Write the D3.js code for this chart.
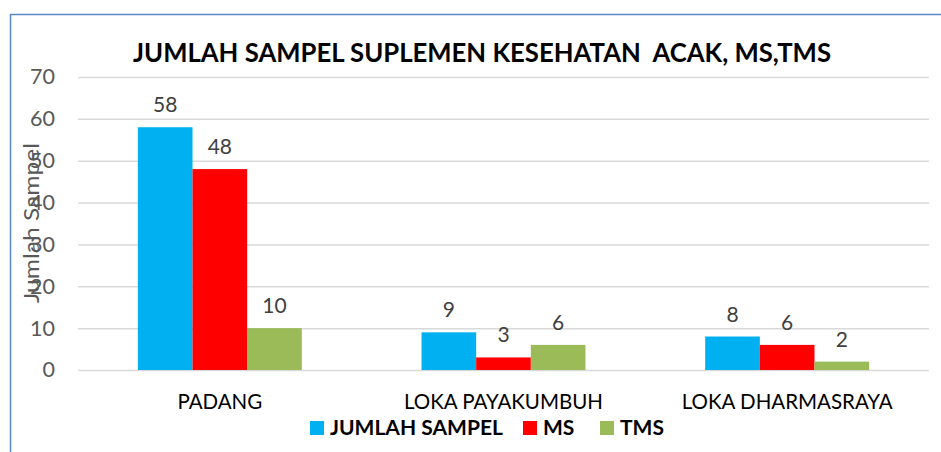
<!DOCTYPE html>
<html>
<head>
<meta charset="utf-8">
<script src="https://cdn.jsdelivr.net/npm/d3@7"></script>
<style>
    body { margin: 0; background: #fff; }
    svg { display: block; font-family: Lato, "Open Sans", sans-serif; }
</style>
</head>
<body>
<svg id="chart"></svg>
<script>
//----------------------------//
//            DATA            //
//----------------------------//
const categories = ["PADANG", "LOKA PAYAKUMBUH", "LOKA DHARMASRAYA"];
const seriesNames = ["JUMLAH SAMPEL", "MS", "TMS"];
const jumlahSampel = [58, 9, 8];
const ms = [48, 3, 6];
const tms = [10, 6, 2];
const yTicks = [0, 10, 20, 30, 40, 50, 60, 70];
const colors = ["#00b0f0", "#ff0000", "#9bbb59"];
const title = "JUMLAH SAMPEL SUPLEMEN KESEHATAN  ACAK, MS,TMS";
const yTitle = "Jumlah Sampel";

const seriesValues = [jumlahSampel, ms, tms];

// --- Plotting ---
function plotChart() {
    const width = 941, height = 452;
    const plot = { left: 78, right: 929, top: 77, bottom: 370 };

    const svg = d3.select('#chart')
        .attr('width', width)
        .attr('height', height);

    svg.append('rect')
        .attr('width', width).attr('height', height)
        .attr('fill', '#fff');

    // chart border (only top and left visible)
    svg.append('path')
        .attr('d', `M10.5,${height} V14.5 H${width}`)
        .attr('fill', 'none')
        .attr('stroke', '#5b87c9')
        .attr('stroke-width', 1.5);

    const y = d3.scaleLinear()
        .domain([0, 70])
        .range([plot.bottom, plot.top]);

    const x0 = d3.scaleBand()
        .domain(categories)
        .range([plot.left, plot.right]);

    const groupW = x0.bandwidth() * 0.578;
    const x1 = d3.scaleBand()
        .domain(seriesNames)
        .range([(x0.bandwidth() - groupW) / 2, (x0.bandwidth() + groupW) / 2]);

    // gridlines + tick labels
    const yAxis = svg.append('g')
        .attr('transform', `translate(${plot.left},0)`)
        .call(d3.axisLeft(y).tickValues(yTicks).tickSize(-(plot.right - plot.left)).tickPadding(23));
    yAxis.select('.domain').remove();
    yAxis.selectAll('.tick line')
        .attr('stroke', '#d9d9d9')
        .attr('stroke-width', 1.5);
    yAxis.selectAll('.tick text')
        .attr('fill', '#595959')
        .style('font-size', '21.5px')
        .style('font-family', 'Lato');

    // y axis title
    svg.append('text')
        .attr('transform', 'translate(39,223) rotate(-90)')
        .attr('text-anchor', 'middle')
        .attr('fill', '#595959')
        .style('font-size', '22px')
        .attr('textLength', 160)
        .attr('lengthAdjust', 'spacingAndGlyphs')
        .text(yTitle);

    // bars
    const groups = svg.selectAll('.group')
        .data(categories)
        .enter()
        .append('g')
        .attr('class', 'group')
        .attr('transform', (d) => `translate(${x0(d)},0)`);

    const cells = groups.selectAll('.cell')
        .data((d, i) => seriesNames.map((s, j) => ({ s, j, v: seriesValues[j][i] })))
        .enter();

    cells.append('rect')
        .attr('x', (d) => x1(d.s))
        .attr('y', (d) => y(d.v))
        .attr('width', x1.bandwidth())
        .attr('height', (d) => y(0) - y(d.v))
        .attr('fill', (d) => colors[d.j]);

    cells.append('text')
        .attr('x', (d) => x1(d.s) + x1.bandwidth() / 2)
        .attr('y', (d) => y(d.v) - 15)
        .attr('text-anchor', 'middle')
        .attr('fill', '#404040')
        .style('font-size', '21px')
        .text((d) => d.v);

    // category labels
    svg.selectAll('.cat')
        .data(categories)
        .enter()
        .append('text')
        .attr('class', 'cat')
        .attr('x', (d) => x0(d) + x0.bandwidth() / 2)
        .attr('y', 409)
        .attr('text-anchor', 'middle')
        .attr('fill', '#000')
        .style('font-size', '20.5px')
        .text((d) => d);

    // title
    svg.append('text')
        .attr('x', 482)
        .attr('y', 62)
        .attr('text-anchor', 'middle')
        .attr('fill', '#000')
        .style('font-size', '26px')
        .style('font-weight', 'bold')
        .attr('textLength', 698)
        .attr('lengthAdjust', 'spacingAndGlyphs')
        .style('white-space', 'pre')
        .text(title);

    // legend
    const legendX = [310, 523, 600];
    const legend = svg.selectAll('.legend')
        .data(seriesNames)
        .enter()
        .append('g')
        .attr('class', 'legend')
        .attr('transform', (d, i) => `translate(${legendX[i]},421)`);

    legend.append('rect')
        .attr('width', 14)
        .attr('height', 14)
        .attr('fill', (d, i) => colors[i]);

    legend.append('text')
        .attr('x', 20)
        .attr('y', 14)
        .attr('fill', '#000')
        .style('font-size', '21px')
        .style('font-weight', 'bold')
        .text((d) => d);
}

document.addEventListener('DOMContentLoaded', () => {
    plotChart();
});
</script>
</body>
</html>
